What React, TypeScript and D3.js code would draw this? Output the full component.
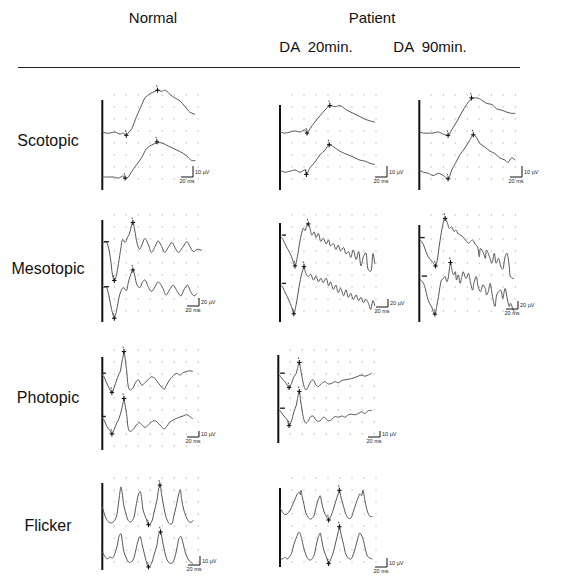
import React from 'react'
import * as d3 from 'd3'

type Pt = [number, number]

// [time ms, amplitude µV] per trace, amplitude relative to the trace's own baseline
const scoNormTop: Pt[] = [[0,0],[7,-1],[13,-1],[21,0],[30,-2],[35,-1],[40,-3],[43,-1],[49,3],[57,14],[66,25],[71,31],[80,35],[88,37],[92,38],[99,37],[105,38],[113,34],[121,31],[130,28],[138,23],[146,18],[155,16]]
const scoNormBot: Pt[] = [[0,0],[10,0],[18,0],[27,-1],[35,1],[38,-1],[43,0],[49,5],[57,11],[66,18],[74,26],[82,29],[91,31],[99,31],[107,29],[118,26],[130,23],[141,19],[149,15],[155,15]]
const scoDa20Top: Pt[] = [[0,0],[8,-1],[17,0],[25,1],[33,0],[42,2],[45,-1],[50,3],[58,9],[67,15],[75,20],[83,24],[92,23],[100,24],[111,20],[122,17],[133,14],[145,11],[158,9]]
const scoDa20Bot: Pt[] = [[0,0],[8,-2],[17,-1],[25,0],[33,-2],[42,0],[44,-4],[50,2],[58,7],[67,14],[75,18],[82,23],[92,20],[100,17],[108,15],[117,13],[125,11],[133,9],[142,8],[150,6],[158,5]]
const scoDa90Top: Pt[] = [[0,0],[7,-1],[15,-1],[23,-1],[32,0],[40,-2],[48,-3],[54,2],[62,9],[70,17],[79,25],[87,30],[96,31],[104,29],[112,26],[121,25],[129,21],[137,20],[146,18],[154,17],[160,17]]
const scoDa90Bot: Pt[] = [[0,0],[7,-2],[15,-3],[23,-5],[32,-3],[40,-5],[48,-8],[54,0],[60,6],[68,14],[76,20],[84,27],[90,32],[96,29],[101,24],[109,21],[118,17],[126,15],[134,11],[143,9],[148,7],[154,11],[160,9]]

const mesNormTop: Pt[] = [[0,0],[6,4],[10,-9],[14,-42],[17,-79],[20,-93],[23,-83],[27,-50],[31,-12],[34,10],[38,2],[42,15],[45,23],[49,46],[51,52],[54,33],[58,0],[62,-15],[66,-4],[71,12],[77,-4],[82,-23],[88,-8],[93,6],[99,-8],[104,-23],[110,-10],[116,2],[121,-10],[127,-23],[134,-10],[141,4],[146,-8],[152,-21],[158,-15],[166,-18]]
const mesNormBot: Pt[] = [[0,0],[6,4],[10,-12],[14,-42],[17,-62],[20,-75],[24,-54],[28,-22],[32,-4],[35,2],[40,-6],[43,12],[47,33],[51,46],[54,33],[58,8],[63,2],[67,16],[71,21],[77,2],[82,-8],[88,4],[93,16],[101,0],[106,-17],[112,-4],[118,8],[125,-8],[131,-19],[136,-4],[142,8],[147,-8],[153,-19],[158,-12]]
const mesDa20Top: Pt[] = [[1,0],[4,-4],[8,-17],[12,-29],[17,-42],[21,-58],[25,-73],[29,-50],[33,-13],[36,8],[39,21],[42,15],[44,25],[47,32],[50,21],[53,4],[57,12],[60,-2],[64,8],[68,-12],[72,-4],[77,-18],[81,-8],[84,-23],[89,-17],[93,-32],[97,-21],[101,-35],[106,-27],[110,-43],[114,-37],[118,-52],[122,-33],[127,-57],[131,-37],[135,-73],[139,-50],[143,-40],[147,-82],[151,-87],[155,-42],[158,-68]]
const mesDa20Bot: Pt[] = [[1,0],[4,-4],[8,-17],[12,-29],[17,-46],[21,-62],[23,-72],[27,-48],[31,-12],[35,21],[38,37],[40,46],[43,29],[47,21],[51,27],[56,12],[60,22],[64,8],[68,17],[72,6],[77,17],[81,-2],[84,8],[89,-11],[93,0],[97,-19],[101,-8],[106,-27],[110,-12],[114,-31],[118,-21],[122,-36],[127,-25],[131,-39],[135,-31],[139,-44],[143,-36],[147,-44],[151,-61],[155,-39],[158,-52]]
const mesDa90Top: Pt[] = [[1,0],[4,-4],[7,-12],[11,-29],[15,-42],[19,-50],[23,-57],[27,-65],[30,-50],[33,-17],[36,12],[39,37],[41,50],[43,54],[47,42],[50,29],[54,33],[58,21],[61,25],[65,15],[69,12],[73,7],[78,-2],[82,-8],[85,-4],[89,0],[93,-10],[97,-17],[100,-42],[102,-21],[107,-33],[110,-46],[112,-25],[117,-42],[121,-58],[125,-33],[128,-58],[132,-46],[136,-67],[139,-73],[143,-42],[146,-33],[150,-67],[152,-92],[156,-96],[158,-96]]
const mesDa90Bot: Pt[] = [[1,0],[4,-4],[7,-10],[10,-23],[13,-43],[17,-60],[21,-70],[23,-81],[26,-87],[29,-68],[32,-43],[35,-14],[37,-2],[40,2],[43,7],[46,-6],[48,2],[50,23],[52,42],[54,27],[57,11],[60,19],[62,-2],[65,11],[68,-10],[71,7],[73,19],[78,2],[82,15],[85,-6],[89,-27],[91,-10],[95,7],[98,-18],[102,-31],[106,-14],[110,-23],[112,-39],[115,-31],[118,-10],[122,-43],[126,-68],[129,-39],[132,-31],[136,-27],[139,-48],[143,-23],[147,-52],[150,-68],[152,-60],[156,-75],[158,-81]]

const phoNormTop: Pt[] = [[0,0],[3,-3],[6,-11],[10,-19],[13,-25],[16,-29],[20,-20],[24,-8],[27,0],[30,6],[32,18],[35,33],[36,39],[38,28],[41,3],[43,-17],[46,-25],[51,-22],[54,-15],[60,-8],[66,-17],[71,-13],[77,-7],[82,-3],[88,-6],[93,-13],[99,-20],[103,-24],[107,-17],[113,-7],[118,-2],[124,3],[129,0],[135,4],[141,6],[146,7],[151,6]]
const phoNormBot: Pt[] = [[0,0],[3,-3],[6,-10],[10,-17],[13,-21],[16,-26],[20,-18],[24,-8],[28,0],[32,14],[35,28],[36,33],[38,22],[41,3],[43,-15],[46,-22],[51,-19],[54,-15],[58,-10],[62,-7],[66,-11],[71,-15],[77,-11],[82,-6],[88,-4],[93,-8],[99,-14],[103,-18],[107,-14],[113,-6],[118,-3],[124,0],[129,2],[135,4],[141,6],[146,3],[151,-1]]
const phoDa20Top: Pt[] = [[2,0],[4,-3],[7,-7],[11,-11],[15,-17],[18,-21],[22,-14],[26,-3],[30,3],[32,11],[35,21],[37,11],[40,-6],[43,-19],[46,-25],[50,-19],[54,-11],[58,-8],[63,-17],[67,-19],[72,-14],[78,-11],[83,-15],[89,-14],[94,-11],[100,-13],[106,-9],[111,-8],[117,-7],[122,-6],[128,-4],[133,-2],[139,0],[144,-2],[150,0],[156,3]]
const phoDa20Bot: Pt[] = [[2,0],[4,-3],[7,-7],[11,-12],[15,-17],[18,-26],[22,-18],[26,-3],[30,8],[32,19],[35,31],[37,17],[40,-3],[43,-17],[46,-22],[50,-18],[54,-11],[58,-10],[63,-17],[67,-19],[71,-17],[75,-12],[79,-14],[83,-18],[89,-16],[94,-11],[100,-12],[106,-10],[111,-12],[117,-8],[122,-7],[128,-8],[133,-6],[139,-3],[144,-6],[150,-1],[156,-1]]

const fliNormTop: Pt[] = [[0,0],[3,-7],[7,-14],[13,-18],[18,-17],[23,-12],[27,4],[30,19],[31,22],[33,16],[36,1],[40,-9],[43,-15],[47,-17],[52,-13],[56,0],[60,13],[63,17],[66,7],[68,-4],[73,-13],[77,-20],[82,-17],[86,-7],[91,7],[94,20],[96,24],[99,13],[103,-2],[107,-13],[112,-19],[116,-19],[119,-11],[123,0],[127,13],[130,19],[132,9],[136,-4],[141,-13],[145,-17],[149,-17],[152,-15]]
const fliNormBot: Pt[] = [[0,0],[5,-6],[8,-8],[13,-6],[17,-7],[21,-2],[25,7],[28,17],[31,20],[33,13],[36,0],[40,-7],[43,-11],[47,-12],[52,-8],[56,2],[60,13],[63,17],[66,9],[70,-2],[73,-10],[77,-17],[82,-13],[86,-4],[91,7],[94,19],[97,22],[100,13],[104,0],[108,-9],[113,-13],[117,-12],[121,-6],[125,6],[128,15],[131,17],[134,11],[138,0],[142,-7],[146,-11],[151,-13]]
const fliDa20Top: Pt[] = [[0,1],[4,-4],[8,-7],[12,-6],[17,-2],[21,4],[25,10],[29,16],[32,18],[34,15],[35,20],[37,13],[40,4],[43,-5],[47,-10],[51,-12],[56,-9],[60,1],[64,10],[67,14],[69,8],[73,-3],[78,-10],[81,-13],[84,-10],[89,-1],[93,8],[97,16],[99,20],[101,14],[106,2],[110,-7],[114,-11],[118,-11],[122,-4],[127,6],[131,13],[133,16],[136,14],[138,20],[142,7],[146,-4],[150,-9],[154,-9]]
const fliDa20Bot: Pt[] = [[0,0],[4,-2],[8,0],[12,-2],[16,1],[19,4],[23,14],[28,23],[32,28],[36,21],[39,12],[43,3],[47,-2],[51,-3],[56,1],[60,12],[64,23],[67,27],[69,21],[73,8],[78,-1],[81,-7],[84,-3],[89,6],[93,17],[97,28],[99,34],[101,28],[106,14],[110,3],[114,-1],[118,-2],[122,3],[127,14],[131,24],[133,27],[138,21],[142,10],[146,1],[150,-1],[154,-2]]

// cursor marks [ms, µV] and flash ticks [from ms, to ms, µV]
const scoMarks: Pt[][] = [[[40,-3],[92,38]],[[38,-1],[91,32]],[[45,-1],[83,24]],[[44,-4],[82,23]],[[48,-3],[87,31]],[[48,-8],[90,32]]]
const mesMarks: Pt[][] = [[[20,-93],[51,52]],[[20,-75],[51,46]],[[25,-73],[47,32]],[[23,-72],[40,46]],[[27,-65],[43,54]],[[26,-87],[52,42]]]
const phoMarks: Pt[][] = [[[16,-29],[36,39]],[[16,-26],[36,33]],[[18,-21],[35,21]],[[18,-26],[35,31]]]
const fliMarks: Pt[][] = [[[77,-20],[96,24]],[[77,-17],[97,22]],[[81,-13],[99,20]],[[81,-7],[99,34]]]
const mesFlash: number[][] = [[3,11,4],[3,11,4],[3,10,4],[3,10,4],[0,9,6],[4,13,8]]
const phoFlash: number[][] = [[0,6,3],[0,6,3],[3,11,3],[3,11,3]]

const rowLabels = ['Scotopic', 'Mesotopic', 'Photopic', 'Flicker']
const calUv = [10, 20, 10, 10]
const calMs = 20

type Panel = {
  row: number; x0: number; top: number; bottom: number; gridTop: number
  traces: { data: Pt[]; base: number; marks: Pt[]; flash?: number[] }[]
  cal: [number, number]
}

const pxPerUv = [1.1, 0.4, 0.6, 0.9]

const panels: Panel[] = [
  { row: 0, x0: 102.3, top: 100, bottom: 190, gridTop: 95, cal: [193, 177],
    traces: [{ data: scoNormTop, base: 132, marks: scoMarks[0] }, { data: scoNormBot, base: 177, marks: scoMarks[1] }] },
  { row: 0, x0: 280, top: 105, bottom: 190, gridTop: 95, cal: [387, 177],
    traces: [{ data: scoDa20Top, base: 132, marks: scoMarks[2] }, { data: scoDa20Bot, base: 170, marks: scoMarks[3] }] },
  { row: 0, x0: 419.3, top: 100, bottom: 190, gridTop: 95, cal: [522, 177],
    traces: [{ data: scoDa90Top, base: 132, marks: scoMarks[4] }, { data: scoDa90Bot, base: 170, marks: scoMarks[5] }] },
  { row: 1, x0: 102.3, top: 220, bottom: 322, gridTop: 215, cal: [199, 306],
    traces: [{ data: mesNormTop, base: 243.3, marks: mesMarks[0], flash: mesFlash[0] }, { data: mesNormBot, base: 288.3, marks: mesMarks[1], flash: mesFlash[1] }] },
  { row: 1, x0: 280, top: 223, bottom: 322, gridTop: 215, cal: [388, 307],
    traces: [{ data: mesDa20Top, base: 236.7, marks: mesMarks[2], flash: mesFlash[2] }, { data: mesDa20Bot, base: 285, marks: mesMarks[3], flash: mesFlash[3] }] },
  { row: 1, x0: 419.3, top: 225, bottom: 322, gridTop: 215, cal: [518, 309],
    traces: [{ data: mesDa90Top, base: 240, marks: mesMarks[4], flash: mesFlash[4] }, { data: mesDa90Bot, base: 279.3, marks: mesMarks[5], flash: mesFlash[5] }] },
  { row: 2, x0: 102.3, top: 357, bottom: 450, gridTop: 350, cal: [199, 437],
    traces: [{ data: phoNormTop, base: 375, marks: phoMarks[0], flash: phoFlash[0] }, { data: phoNormBot, base: 418.3, marks: phoMarks[1], flash: phoFlash[1] }] },
  { row: 2, x0: 278.3, top: 355, bottom: 443, gridTop: 350, cal: [380, 437],
    traces: [{ data: phoDa20Top, base: 375, marks: phoMarks[2], flash: phoFlash[2] }, { data: phoDa20Bot, base: 410, marks: phoMarks[3], flash: phoFlash[3] }] },
  { row: 3, x0: 102.3, top: 483, bottom: 570, gridTop: 478, cal: [200, 565],
    traces: [{ data: fliNormTop, base: 506.7, marks: fliMarks[0] }, { data: fliNormBot, base: 551.7, marks: fliMarks[1] }] },
  { row: 3, x0: 280, top: 488, bottom: 567, gridTop: 478, cal: [387, 567],
    traces: [{ data: fliDa20Top, base: 508.3, marks: fliMarks[2] }, { data: fliDa20Bot, base: 557.3, marks: fliMarks[3] }] },
]

const rowLabelY = [140, 268, 397, 525]

export default function App() {
  const font = "'Liberation Sans', Arial, Helvetica, sans-serif"
  return (
    <svg width={577} height={576} style={{ position: 'absolute', left: 0, top: 0, background: '#fff' }} fontFamily={font}>
      <rect width={577} height={576} fill="#fff" />
      <text x={153} y={23} fontSize={15} textAnchor="middle" fill="#111">Normal</text>
      <text x={372} y={23} fontSize={15} textAnchor="middle" fill="#111">Patient</text>
      <text x={316} y={52} fontSize={15} textAnchor="middle" fill="#111" style={{ whiteSpace: 'pre' }}>DA  20min.</text>
      <text x={430} y={52} fontSize={15} textAnchor="middle" fill="#111" style={{ whiteSpace: 'pre' }}>DA  90min.</text>
      <line x1={18} x2={520} y1={67.5} y2={67.5} stroke="#222" strokeWidth={1.2} />
      {rowLabels.map((l, i) => (
        <text key={l} x={48} y={rowLabelY[i] + 5.5} fontSize={16} textAnchor="middle" fill="#111">{l}</text>
      ))}
      {panels.map((p, pi) => {
        const x = d3.scaleLinear().domain([0, 160]).range([p.x0, p.x0 + 96])
        const k = pxPerUv[p.row]
        const cols = d3.range(20, 161, 20)
        const rows = d3.range(p.gridTop, p.bottom + 1, 12)
        const [cx, cy] = p.cal
        const calH = calUv[p.row] * k
        const calW = x(calMs) - x(0)
        return (
          <g key={pi}>
            {rows.map(yy => cols.map(t => (
              <rect key={`${yy}-${t}`} x={x(t) - 0.6} y={yy - 0.6} width={1.2} height={1.2} fill="#b8b8b8" />
            )))}
            <line x1={p.x0} x2={p.x0} y1={p.top} y2={p.bottom} stroke="#111" strokeWidth={2} />
            {p.traces.map((tr, ti) => {
              const y = d3.scaleLinear().domain([0, 1]).range([tr.base, tr.base - k])
              const line = d3.line<Pt>().x(d => x(d[0])).y(d => y(d[1])).curve(d3.curveCatmullRom.alpha(0.5))
              return (
                <g key={ti}>
                  <path d={line(tr.data) || ''} fill="none" stroke="#555" strokeWidth={1} />
                  {tr.flash && (
                    <line x1={x(tr.flash[0])} x2={x(tr.flash[1])} y1={y(tr.flash[2])} y2={y(tr.flash[2])} stroke="#222" strokeWidth={1.4} />
                  )}
                  {tr.marks.map((m, mi) => {
                    const mx = x(m[0]), my = y(m[1])
                    return (
                      <g key={mi} stroke="#111" strokeWidth={1.1}>
                        <line x1={mx - 2.2} x2={mx + 2.2} y1={my} y2={my} />
                        <line x1={mx} x2={mx} y1={my - 2.5} y2={my + 2.5} />
                        <line x1={mx - 1} x2={mx - 0.4} y1={my - 5} y2={my - 3.4} strokeWidth={0.8} />
                      </g>
                    )
                  })}
                </g>
              )
            })}
            <g stroke="#111" strokeWidth={1}>
              <line x1={cx} x2={cx} y1={cy - calH} y2={cy} />
              <line x1={cx - calW} x2={cx} y1={cy} y2={cy} />
            </g>
            <text x={cx + 2} y={cy - calH / 2 + 2} fontSize={5.5} fill="#222">{`${calUv[p.row]} µV`}</text>
            <text x={cx - calW / 2} y={cy + 5.5} fontSize={5.5} fill="#222" textAnchor="middle">{`${calMs} ms`}</text>
          </g>
        )
      })}
    </svg>
  )
}
